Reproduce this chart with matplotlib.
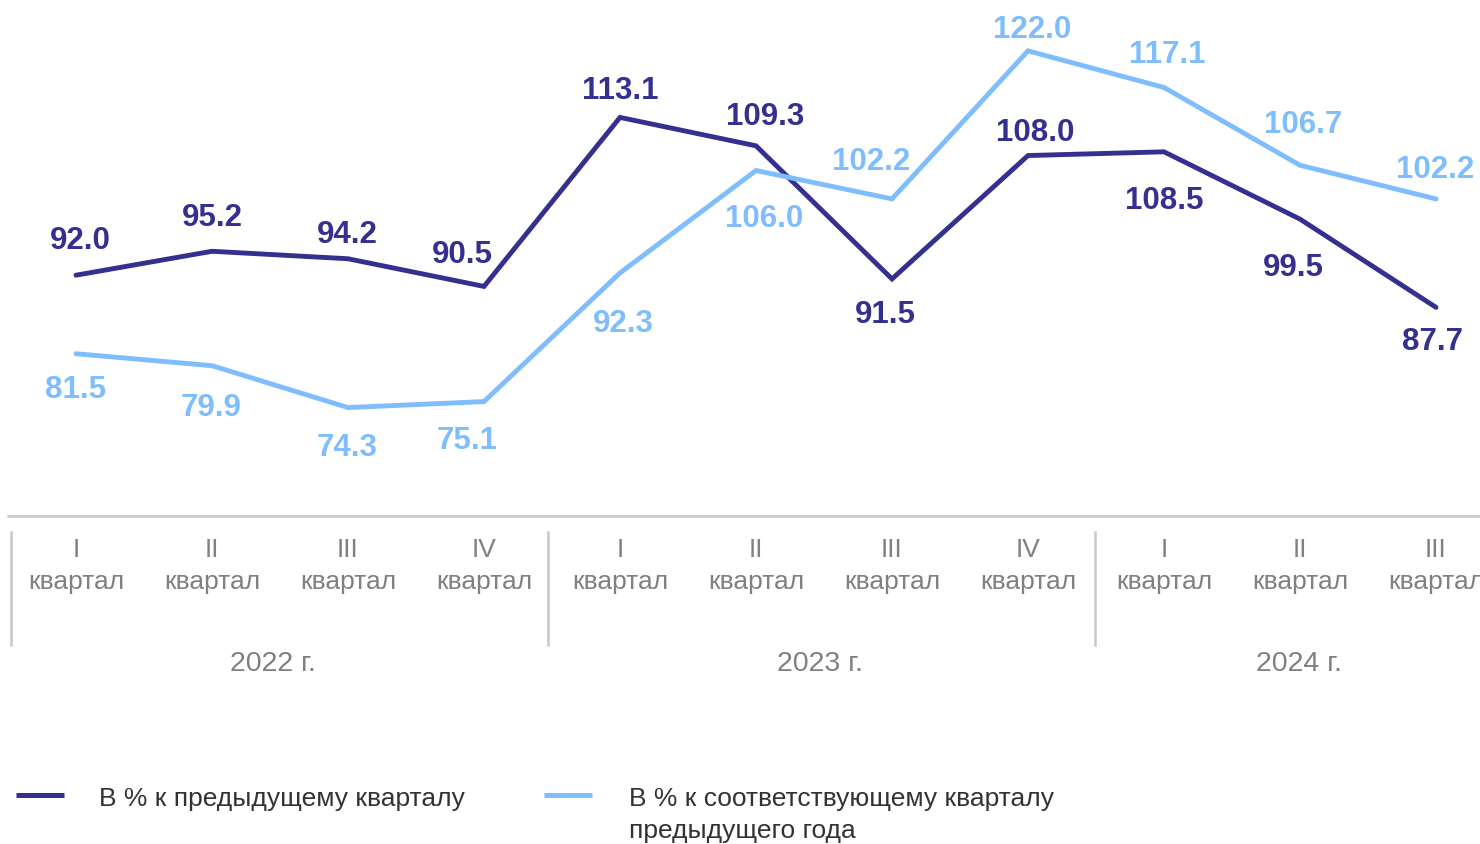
import matplotlib.pyplot as plt
from matplotlib.lines import Line2D

plt.rcParams['font.family'] = ['Liberation Sans', 'DejaVu Sans']

# data
quarters = ["I", "II", "III", "IV", "I", "II", "III", "IV", "I", "II", "III"]
years = ["2022 г.", "2023 г.", "2024 г."]
prev_quarter = [92.0, 95.2, 94.2, 90.5, 113.1, 109.3, 91.5, 108.0, 108.5, 99.5, 87.7]
prev_year = [81.5, 79.9, 74.3, 75.1, 92.3, 106.0, 102.2, 122.0, 117.1, 106.7, 102.2]
legend_labels = ["В % к предыдущему кварталу",
                 "В % к соответствующему кварталу\nпредыдущего года"]

DARK = "#33308f"
LIGHT = "#7fbdfd"
GRAY = "#808080"

# label offsets in pixels (dx, dy up positive)
dark_off = [(4, 37), (0, 36), (-1, 27), (-22, 34), (0, 29), (9, 32),
            (-7, -33), (7, 26), (0, -46), (-7, -46), (-3, -32)]
light_off = [(0, -33), (-1, -39), (-1, -37), (-17, -36), (3, -48), (8, -45),
             (-21, 40), (4, 24), (3, 35), (3, 43), (-1, 32)]

W, H = 1480, 844
fig = plt.figure(figsize=(W / 100, H / 100), dpi=100)
ax = fig.add_axes([8 / W, (H - 516) / H, 1496 / W, 516 / H])
x = list(range(len(quarters)))

ax.plot(x, prev_quarter, color=DARK, lw=3.5, solid_capstyle='round', solid_joinstyle='miter')
ax.plot(x, prev_year, color=LIGHT, lw=3.5, solid_capstyle='round', solid_joinstyle='miter')

for xi, v, (dx, dy) in zip(x, prev_quarter, dark_off):
    ax.annotate(f"{v:.1f}", (xi, v), xytext=(dx, dy - 3), textcoords='offset pixels',
                ha='center', va='center', fontsize=22.5, fontweight='bold', color=DARK)
for xi, v, (dx, dy) in zip(x, prev_year, light_off):
    ax.annotate(f"{v:.1f}", (xi, v), xytext=(dx, dy - 3), textcoords='offset pixels',
                ha='center', va='center', fontsize=22.5, fontweight='bold', color=LIGHT)

ax.set_xlim(-0.5, 10.5)
ax.set_ylim(59.8, 128.8)
ax.axis('off')

# x axis line
ax.axhline(59.8, color="#c8c8c8", lw=1.8, clip_on=False)

trans = ax.get_xaxis_transform()
px = 1 / 516
for xi, q in zip(x, quarters):
    ax.text(xi, -34 * px, q, transform=trans, ha='center', va='center',
            fontsize=19, color=GRAY)
    ax.text(xi, -66 * px, "квартал", transform=trans, ha='center', va='center',
            fontsize=19, color=GRAY)

for sx in [-0.48, 3.47, 7.49]:
    ax.plot([sx, sx], [-16 * px, -129 * px], transform=trans, color="#c8c8c8",
            lw=1.8, clip_on=False)

for yc, yl in zip([1.45, 5.47, 8.99], years):
    ax.text(yc, -148 * px, yl, transform=trans, ha='center', va='center',
            fontsize=20.5, color=GRAY)

# legend
fig.add_artist(Line2D([16 / W, 64 / W], [1 - 795 / H, 1 - 795 / H], color=DARK, lw=3.6,
                      solid_capstyle='butt'))
fig.add_artist(Line2D([544 / W, 592 / W], [1 - 795 / H, 1 - 795 / H], color=LIGHT, lw=3.6,
                      solid_capstyle='butt'))
fig.text(99 / W, 1 - 799 / H, legend_labels[0], ha='left', va='center',
         fontsize=19, color="#333333")
fig.text(629 / W, 1 - 815 / H, legend_labels[1], ha='left', va='center',
         fontsize=19, color="#333333", linespacing=1.45)

fig.savefig("out.png", dpi=100)
